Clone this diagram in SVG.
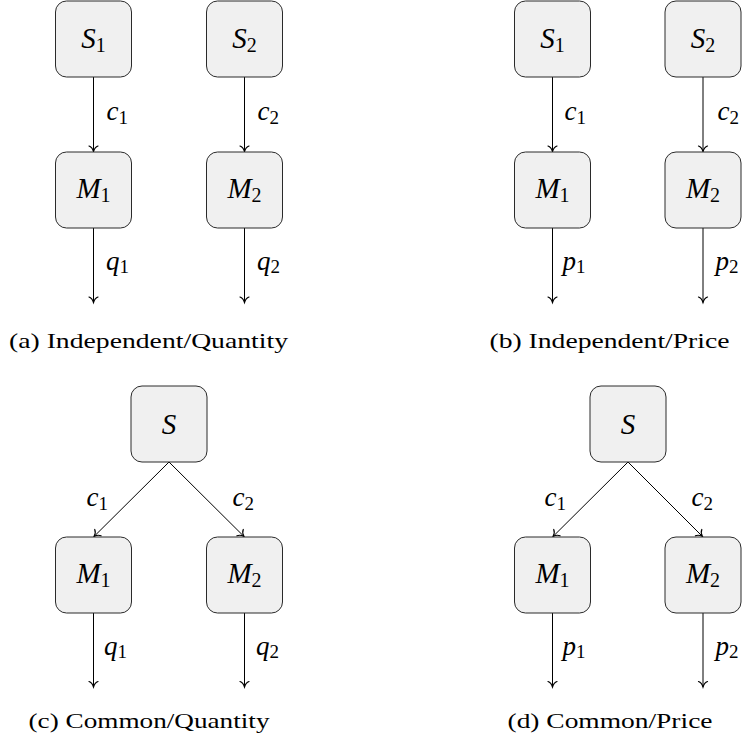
<svg xmlns="http://www.w3.org/2000/svg" width="743" height="747" viewBox="0 0 743 747">
<defs>
<style>
.box{fill:#f0f0f0;stroke:#2a2a2a;stroke-width:1}
.edge{stroke:#000;stroke-width:1;fill:none;marker-end:url(#arr)}
text{font-family:'Liberation Serif','Times New Roman',Times,serif;fill:#000}
.nt{font-style:italic;font-size:29px;text-anchor:middle}
.nt .sub{font-size:20px}
.lb{font-style:italic;font-size:27px}
.lb .sub{font-size:19px}
.sub{font-style:normal}
.cap{font-size:21.5px}
</style>
<marker id="arr" markerUnits="userSpaceOnUse" markerWidth="14" markerHeight="14" viewBox="-7 -7 14 14" refX="0" refY="0" orient="auto">
<path d="M-5.5,-4.5 C-4.5,-1.8 -1.6,-0.5 0,0 C-1.6,0.5 -4.5,1.8 -5.5,4.5" fill="none" stroke="#000" stroke-width="1.2" stroke-linecap="round"/>
</marker>
</defs>

<g id="connectors">
<line class="edge" x1="93.5" y1="77" x2="93.5" y2="151.5"/>
<line class="edge" x1="244.5" y1="77" x2="244.5" y2="151.5"/>
<line class="edge" x1="93.5" y1="228" x2="93.5" y2="302.5"/>
<line class="edge" x1="244.5" y1="228" x2="244.5" y2="302.5"/>
<line class="edge" x1="552.5" y1="77" x2="552.5" y2="151.5"/>
<line class="edge" x1="703" y1="77" x2="703" y2="151.5"/>
<line class="edge" x1="552.5" y1="228" x2="552.5" y2="302.5"/>
<line class="edge" x1="703" y1="228" x2="703" y2="302.5"/>
<line class="edge" x1="169" y1="462" x2="94" y2="536.5"/>
<line class="edge" x1="169" y1="462" x2="244" y2="536.5"/>
<line class="edge" x1="93.5" y1="613" x2="93.5" y2="687"/>
<line class="edge" x1="244.5" y1="613" x2="244.5" y2="687"/>
<line class="edge" x1="628" y1="462" x2="553" y2="536.5"/>
<line class="edge" x1="628" y1="462" x2="702.5" y2="536.5"/>
<line class="edge" x1="552.5" y1="613" x2="552.5" y2="687"/>
<line class="edge" x1="703" y1="613" x2="703" y2="687"/>
</g>

<g id="edge-labels">
<text class="lb" x="106.5" y="120">c<tspan class="sub" dy="4">1</tspan></text>
<text class="lb" x="257.5" y="120">c<tspan class="sub" dy="4">2</tspan></text>
<text class="lb" x="106" y="270">q<tspan class="sub" dy="3">1</tspan></text>
<text class="lb" x="257" y="270">q<tspan class="sub" dy="3">2</tspan></text>

<text class="lb" x="564.5" y="120">c<tspan class="sub" dy="4">1</tspan></text>
<text class="lb" x="717.5" y="120">c<tspan class="sub" dy="4">2</tspan></text>
<text class="lb" x="562.5" y="270">p<tspan class="sub" dy="3">1</tspan></text>
<text class="lb" x="715.5" y="270">p<tspan class="sub" dy="3">2</tspan></text>

<text class="lb" x="86.5" y="506">c<tspan class="sub" dy="4">1</tspan></text>
<text class="lb" x="232.5" y="506">c<tspan class="sub" dy="4">2</tspan></text>
<text class="lb" x="104" y="655">q<tspan class="sub" dy="3">1</tspan></text>
<text class="lb" x="256" y="655">q<tspan class="sub" dy="3">2</tspan></text>

<text class="lb" x="544.5" y="506">c<tspan class="sub" dy="4">1</tspan></text>
<text class="lb" x="691.5" y="506">c<tspan class="sub" dy="4">2</tspan></text>
<text class="lb" x="562.5" y="655">p<tspan class="sub" dy="3">1</tspan></text>
<text class="lb" x="715.5" y="655">p<tspan class="sub" dy="3">2</tspan></text>
</g>

<g id="a-S1"><rect class="box" x="55.5" y="1" width="76" height="76" rx="11"/><text class="nt" x="93.5" y="47.5">S<tspan class="sub" dy="4">1</tspan></text></g>
<g id="a-S2"><rect class="box" x="206.5" y="1" width="76" height="76" rx="11"/><text class="nt" x="244.5" y="47.5">S<tspan class="sub" dy="4">2</tspan></text></g>
<g id="a-M1"><rect class="box" x="55.5" y="152" width="76" height="76" rx="11"/><text class="nt" x="93.5" y="198">M<tspan class="sub" dy="4">1</tspan></text></g>
<g id="a-M2"><rect class="box" x="206.5" y="152" width="76" height="76" rx="11"/><text class="nt" x="244.5" y="198">M<tspan class="sub" dy="4">2</tspan></text></g>

<g id="b-S1"><rect class="box" x="514.5" y="1" width="76" height="76" rx="11"/><text class="nt" x="552.5" y="47.5">S<tspan class="sub" dy="4">1</tspan></text></g>
<g id="b-S2"><rect class="box" x="665" y="1" width="76" height="76" rx="11"/><text class="nt" x="703" y="47.5">S<tspan class="sub" dy="4">2</tspan></text></g>
<g id="b-M1"><rect class="box" x="514.5" y="152" width="76" height="76" rx="11"/><text class="nt" x="552.5" y="198">M<tspan class="sub" dy="4">1</tspan></text></g>
<g id="b-M2"><rect class="box" x="665" y="152" width="76" height="76" rx="11"/><text class="nt" x="703" y="198">M<tspan class="sub" dy="4">2</tspan></text></g>

<g id="c-S"><rect class="box" x="131" y="386" width="76" height="76" rx="11"/><text class="nt" x="169" y="433.5">S</text></g>
<g id="c-M1"><rect class="box" x="55.5" y="537" width="76" height="76" rx="11"/><text class="nt" x="93.5" y="583">M<tspan class="sub" dy="4">1</tspan></text></g>
<g id="c-M2"><rect class="box" x="206.5" y="537" width="76" height="76" rx="11"/><text class="nt" x="244.5" y="583">M<tspan class="sub" dy="4">2</tspan></text></g>

<g id="d-S"><rect class="box" x="590" y="386" width="76" height="76" rx="11"/><text class="nt" x="628" y="433.5">S</text></g>
<g id="d-M1"><rect class="box" x="514.5" y="537" width="76" height="76" rx="11"/><text class="nt" x="552.5" y="583">M<tspan class="sub" dy="4">1</tspan></text></g>
<g id="d-M2"><rect class="box" x="665" y="537" width="76" height="76" rx="11"/><text class="nt" x="703" y="583">M<tspan class="sub" dy="4">2</tspan></text></g>

<g id="captions">
<text class="cap" x="9" y="348" textLength="279" lengthAdjust="spacingAndGlyphs">(a) Independent/Quantity</text>
<text class="cap" x="489.5" y="348" textLength="240" lengthAdjust="spacingAndGlyphs">(b) Independent/Price</text>
<text class="cap" x="28.5" y="728" textLength="241" lengthAdjust="spacingAndGlyphs">(c) Common/Quantity</text>
<text class="cap" x="507.5" y="728" textLength="205" lengthAdjust="spacingAndGlyphs">(d) Common/Price</text>
</g>
</svg>
